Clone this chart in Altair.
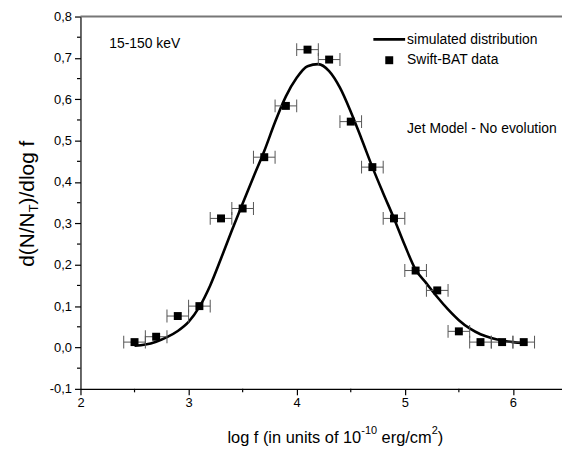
import altair as alt
import pandas as pd

# ---- data ----
data_x = [2.5, 2.7, 2.9, 3.1, 3.3, 3.5, 3.7, 3.9, 4.1, 4.3, 4.5, 4.7, 4.9, 5.1, 5.3, 5.5, 5.7, 5.9, 6.1]
data_y = [0.013, 0.026, 0.076, 0.100, 0.312, 0.336, 0.460, 0.584, 0.720, 0.696, 0.546, 0.436, 0.312, 0.186, 0.138, 0.039, 0.013, 0.013, 0.013]
x_err = [0.1] * len(data_x)

curve_x = [2.5, 2.6, 2.7, 2.8, 2.9, 3.0, 3.1, 3.2, 3.3, 3.4, 3.5, 3.6, 3.7, 3.8, 3.9, 4.0, 4.1, 4.2,
           4.3, 4.4, 4.5, 4.6, 4.7, 4.8, 4.9, 5.0, 5.1, 5.2, 5.3, 5.4, 5.5, 5.6, 5.7, 5.8, 5.9, 6.0, 6.1]
curve_y = [0.004, 0.007, 0.014, 0.025, 0.040, 0.062, 0.098, 0.150, 0.215, 0.283, 0.348, 0.412, 0.475,
           0.545, 0.607, 0.652, 0.680, 0.685, 0.668, 0.628, 0.570, 0.504, 0.436, 0.373, 0.312, 0.247,
           0.188, 0.155, 0.122, 0.092, 0.066, 0.046, 0.032, 0.023, 0.017, 0.013, 0.011]

x_ticks = [2, 3, 4, 5, 6]
x_minor = [2.5, 3.5, 4.5, 5.5]
y_ticks = [-0.1, 0.0, 0.1, 0.2, 0.3, 0.4, 0.5, 0.6, 0.7, 0.8]
y_minor = [-0.05, 0.05, 0.15, 0.25, 0.35, 0.45, 0.55, 0.65, 0.75]

FONT = "Liberation Sans"
W, H = 485, 375

pts = pd.DataFrame({"x": data_x, "y": data_y, "e": x_err})
pts["xlo"] = pts["x"] - pts["e"]
pts["xhi"] = pts["x"] + pts["e"]
curve = pd.DataFrame({"x": curve_x, "y": curve_y})
xm = pd.DataFrame({"v": x_minor})
ym = pd.DataFrame({"v": y_minor})
dummy = pd.DataFrame({"a": [0]})

xs = alt.Scale(domain=[2, 6.454], nice=False, zero=False)
ys = alt.Scale(domain=[-0.1, 0.8], nice=False, zero=False)

x_axis = alt.Axis(values=x_ticks, title=None, grid=False, labelFont=FONT, labelFontSize=13,
                  labelColor="black", tickColor="black", tickSize=6, domainColor="black",
                  domainWidth=1.2, tickWidth=1.2, labelPadding=2, labelFlush=False)
y_axis = alt.Axis(values=y_ticks, title=None, grid=False, labelFont=FONT, labelFontSize=13,
                  labelColor="black", tickColor="black", tickSize=6, domainColor="black",
                  domainWidth=1.2, tickWidth=1.2, labelPadding=3,
                  labelExpr="replace(replace(format(datum.value, '.1f'), '.', ','), '\u2212', '-')")


def X(f):
    return alt.X(f, scale=xs, axis=x_axis)


def Y(f):
    return alt.Y(f, scale=ys, axis=y_axis)


line = alt.Chart(curve).mark_line(color="black", strokeWidth=2.6, interpolate="monotone").encode(
    x=X("x:Q"), y=Y("y:Q"))

ebar = alt.Chart(pts).mark_rule(color="#555555", strokeWidth=1).encode(
    x=X("xlo:Q"), x2="xhi:Q", y=Y("y:Q"))
cap_lo = alt.Chart(pts).mark_tick(orient="vertical", size=13, thickness=1, color="#555555", opacity=1).encode(
    x=X("xlo:Q"), y=Y("y:Q"))
cap_hi = alt.Chart(pts).mark_tick(orient="vertical", size=13, thickness=1, color="#555555", opacity=1).encode(
    x=X("xhi:Q"), y=Y("y:Q"))

squares = alt.Chart(pts).mark_point(shape="square", filled=True, size=64, color="black", opacity=1).encode(
    x=X("x:Q"), y=Y("y:Q"))

xminor = alt.Chart(xm).mark_rule(color="black", strokeWidth=1.2).encode(
    x=X("v:Q"), y=alt.value(H), y2=alt.value(H + 3.5))
yminor = alt.Chart(ym).mark_rule(color="black", strokeWidth=1.2).encode(
    y=Y("v:Q"), x=alt.value(-3.5), x2=alt.value(0))

top_line = alt.Chart(dummy).mark_rule(color="#777777", strokeWidth=2).encode(
    x=alt.value(0), x2=alt.value(W), y=alt.value(0))


def txt(s, x, y, size=14, align="left", baseline="middle", angle=0):
    kw = dict(text=s, font=FONT, fontSize=size, color="black", align=align, baseline=baseline)
    if angle:
        kw["angle"] = angle
    return alt.Chart(dummy).mark_text(**kw).encode(x=alt.value(x), y=alt.value(y))


# legend
leg_line = alt.Chart(dummy).mark_rule(color="black", strokeWidth=2.6).encode(
    x=alt.value(295), x2=alt.value(327), y=alt.value(23))
leg_sq = alt.Chart(dummy).mark_point(shape="square", filled=True, size=64, color="black", opacity=1).encode(
    x=alt.value(311), y=alt.value(44))

texts = [
    txt("simulated distribution", 329, 24),
    txt("Swift-BAT data", 329, 44),
    txt("Jet Model - No evolution", 329, 113),
    txt("15-150 keV", 29, 28),
    # x title pieces
    txt("log f (in units of 10", 148, 430, size=16.5, baseline="alphabetic"),
    txt("-10", 282.8, 420, size=11, baseline="alphabetic"),
    txt("erg/cm", 303.3, 430, size=16.5, baseline="alphabetic"),
    txt("2", 353.7, 420, size=11, baseline="alphabetic"),
    txt(")", 359.8, 430, size=16.5, baseline="alphabetic"),
    # y title pieces (rotated)
    txt("d(N/N", -53, 252, size=21, angle=270),
    txt("T", -47, 197.2, size=13, angle=270),
    txt(")/dlog f", -53, 189.2, size=21, angle=270),
]

chart = alt.layer(
    line, top_line, xminor, yminor, ebar, cap_lo, cap_hi, squares, leg_line, leg_sq, *texts
).properties(
    width=W, height=H,
    padding={"left": 73, "top": 7, "right": 0, "bottom": 62},
    autosize=alt.AutoSizeParams(type="none"),
).configure_view(stroke=None)

chart.save("out.html", embed_options={"renderer": "svg", "actions": False})
